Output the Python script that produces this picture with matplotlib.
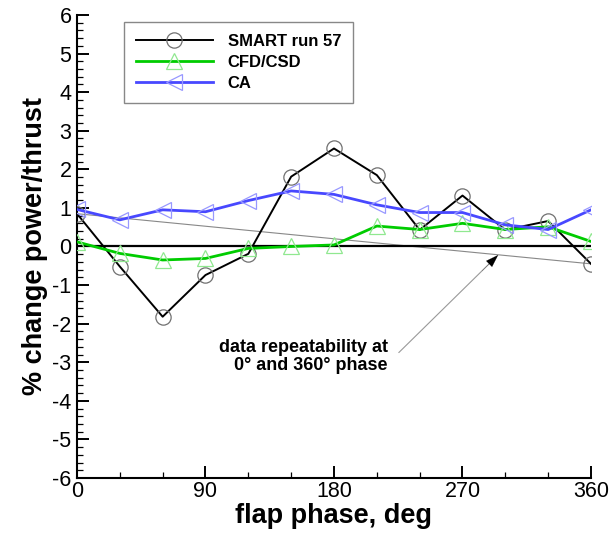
import numpy as np
import matplotlib
matplotlib.use('Agg')
import matplotlib.pyplot as plt

plt.rcParams['font.family'] = ['Liberation Sans', 'DejaVu Sans']
plt.rcParams['axes.unicode_minus'] = False

# flap phase, deg
phase = [0, 30, 60, 90, 120, 150, 180, 210, 240, 270, 300, 330, 360]

# % change power/thrust
smart = [0.85, -0.52, -1.82, -0.74, -0.19, 1.81, 2.54, 1.85, 0.43, 1.32, 0.43, 0.66, -0.45]
cfd = [0.12, -0.18, -0.35, -0.31, -0.05, 0.0, 0.04, 0.53, 0.44, 0.60, 0.44, 0.51, 0.13]
ca = [0.96, 0.69, 0.95, 0.90, 1.19, 1.44, 1.35, 1.08, 0.88, 0.88, 0.56, 0.44, 0.95]

labels = ['SMART run 57', 'CFD/CSD', 'CA']

fig = plt.figure(figsize=(6.13, 5.39), dpi=100)
ax = fig.add_axes([0.1256, 0.1132, 0.8385, 0.8590])

# data repeatability line between 0 and 360 deg points
ax.plot([phase[0], phase[-1]], [smart[0], smart[-1]], color='#888888', lw=0.8, zorder=2)
ax.axhline(0.0, color='black', lw=1.6, zorder=2)

ax.plot(phase, smart, color='black', lw=1.4, marker='o', ms=11,
        mfc='none', mec='#707070', mew=0.9, label=labels[0], zorder=3)
ax.plot(phase, cfd, color='#00cc00', lw=2.0, marker='^', ms=11,
        mfc='none', mec='#90e890', mew=0.9, label=labels[1], zorder=3)
ax.plot(phase, ca, color='#4848ff', lw=2.0, marker='<', ms=11,
        mfc='none', mec='#9898ff', mew=0.9, label=labels[2], zorder=4)

ax.set_xlim(0, 360)
ax.set_ylim(-6, 6)
ax.set_xticks(np.arange(0, 361, 90))
ax.set_xticks(np.arange(0, 361, 30), minor=True)
ax.set_yticks(np.arange(-6, 7, 1))
ax.set_yticks(np.arange(-6, 6.01, 0.2), minor=True)

for side in ['top', 'right']:
    ax.spines[side].set_visible(False)
for side in ['left', 'bottom']:
    ax.spines[side].set_linewidth(1.5)

ax.tick_params(which='major', direction='in', length=8.5, width=1.4, labelsize=15.5)
ax.tick_params(which='minor', direction='in', length=4.3, width=0.9)
ax.tick_params(axis='x', which='major', pad=2)
ax.tick_params(axis='y', which='major', pad=4)

ax.set_xlabel('flap phase, deg', fontsize=19.5, fontweight='bold', labelpad=1)
ax.set_ylabel('% change power/thrust', fontsize=19.5, fontweight='bold', labelpad=3)

leg = ax.legend(loc='upper left', bbox_to_anchor=(0.0914, 0.985), borderaxespad=0,
                prop={'weight': 'bold', 'size': 12}, handlelength=4.6,
                handletextpad=0.9, labelspacing=0.36, borderpad=0.72,
                fancybox=False, framealpha=1)
leg.get_frame().set_edgecolor('#888888')
leg.get_frame().set_linewidth(1.0)

# annotation
tip = (295, -0.22)
tail = (224, -2.8)
ax.annotate('', xy=tip, xytext=tail,
            arrowprops=dict(arrowstyle='-', color='#999999', lw=0.8))
ax.annotate('', xy=tip, xytext=(tip[0] - 0.16 * (tip[0] - tail[0]), tip[1] - 0.16 * (tip[1] - tail[1])),
            arrowprops=dict(arrowstyle='-|>,head_length=0.9,head_width=0.3',
                            color='black', lw=0.1, shrinkA=0, shrinkB=0))
ax.text(158.6, -2.85, 'data repeatability at\n0\u00b0 and 360\u00b0 phase',
        ha='center', va='center', multialignment='right',
        fontsize=13, fontweight='bold', linespacing=1.12)

fig.savefig('out.png', dpi=100)
